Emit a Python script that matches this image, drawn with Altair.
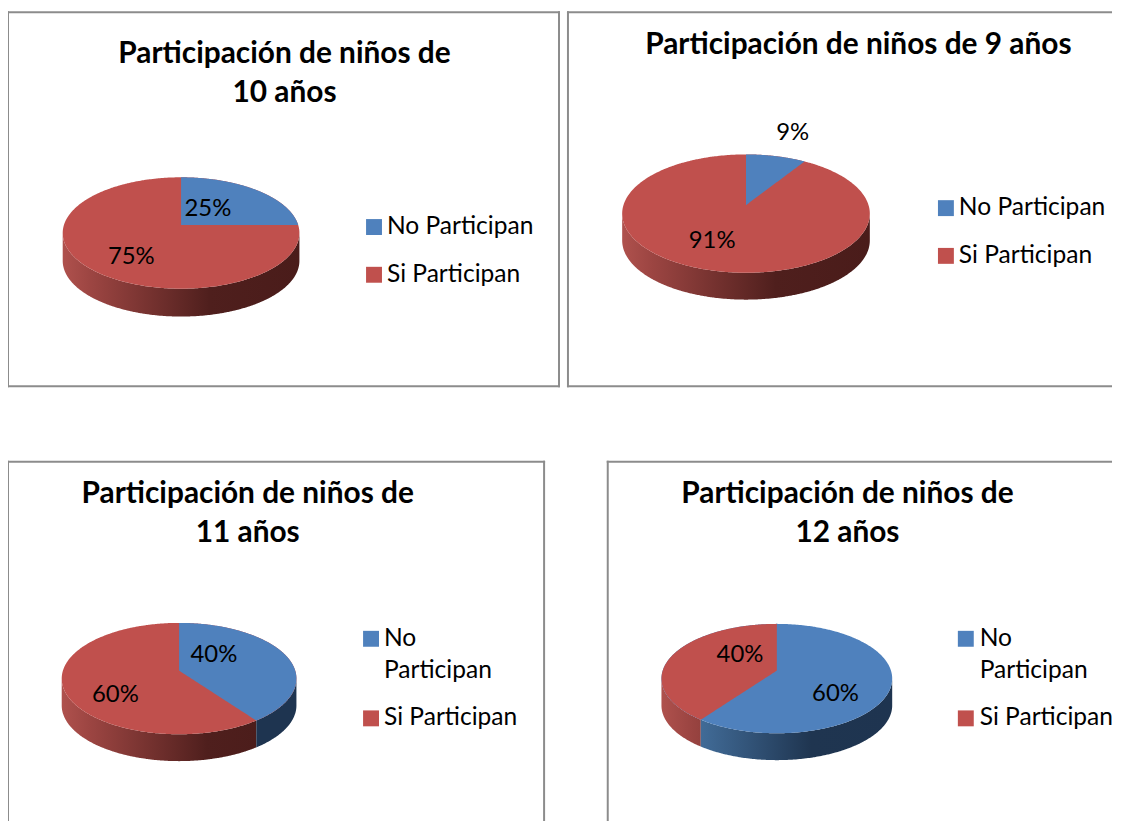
import numpy as np
import pandas as pd
import altair as alt

SERIES = ["No Participan", "Si Participan"]
COLORS = ["#4F81BD", "#C0504D"]
TITLES = [["Participación de niños de", "10 años"],
          ["Participación de niños de 9 años"],
          ["Participación de niños de", "11 años"],
          ["Participación de niños de", "12 años"]]
NO_PARTICIPAN = [25, 9, 40, 60]
SI_PARTICIPAN = [75, 91, 60, 40]

# layout, in picture pixels
PANELS = [
    dict(origin=(6, 9), size=(556, 378), frame="ltrb", title_x=285, title_y=[52, 91],
         apex=(181, 224), half=119, up=48, down=64, depth=28,
         lab_no=(208, 208), lab_si=(131, 256), legend=(375, 388), rows=[226, 274], wrap=False),
    dict(origin=(566, 9), size=(548, 378), frame="ltb", title_x=859, title_y=[43],
         apex=(746, 204), half=124.5, up=51, down=68, depth=27,
         lab_no=(793, 132), lab_si=(712, 240), legend=(947, 960), rows=[207, 255], wrap=False),
    dict(origin=(6, 459), size=(541, 363), frame="ltr", title_x=248, title_y=[492, 532],
         apex=(179, 670), half=118, up=48, down=64, depth=27,
         lab_no=(214, 654), lab_si=(115, 695), legend=(372, 385), rows=[638, 718], wrap=True),
    dict(origin=(606, 459), size=(508, 363), frame="lt", title_x=848, title_y=[492, 532],
         apex=(777, 670), half=116, up=47, down=63, depth=27,
         lab_no=(836, 694), lab_si=(740, 654), legend=(967, 981), rows=[638, 718], wrap=True),
]
FONT = "Lato"
LINE_GAP = 32
TITLE_SIZE = 30
LABEL_SIZE = 24
LEGEND_SIZE = 24.7
FRAME = "#8C8C8C"
RED_SIDE = [(0.0, "#AF514D"), (0.12, "#9C4542"), (0.62, "#4F1F1D"), (1.0, "#4A1C1A")]
BLUE_SIDE = [(0.0, "#4A7AB0"), (0.2, "#3F6893"), (0.65, "#1F3550"), (1.0, "#1E3450")]


def hex_rgb(c):
    return np.array([int(c[i:i + 2], 16) for i in (1, 3, 5)], float)


def ramp(stops, t):
    ts = [s[0] for s in stops]
    rgb = [np.interp(t, ts, [hex_rgb(s[1])[i] for s in stops]) for i in range(3)]
    return "#%02X%02X%02X" % tuple(int(round(v)) for v in rgb)


def rim(p, theta):
    """Perspective image of the pie's circular rim; theta runs clockwise from 12 o'clock."""
    k = (p["down"] - p["up"]) / (p["down"] + p["up"])
    b = 2 * p["up"] * p["down"] / (p["up"] + p["down"])
    a = p["half"] * np.sqrt(1 - k * k)
    d = 1 + k * np.cos(theta)
    return p["apex"][0] + a * np.sin(theta) / d, p["apex"][1] - b * np.cos(theta) / d


def to_rows(xs, ys):
    """Upper and lower y of a convex outline for each of its x."""
    grid = np.unique(np.round(xs, 3))
    top, bot = [], []
    n = len(xs)
    for g in grid:
        hits = []
        for i in range(n):
            x0, y0, x1, y1 = xs[i], ys[i], xs[(i + 1) % n], ys[(i + 1) % n]
            if min(x0, x1) - 1e-3 <= g <= max(x0, x1) + 1e-3:
                if abs(x1 - x0) < 1e-6:
                    hits += [y0, y1]
                else:
                    hits.append(y0 + (y1 - y0) * (g - x0) / (x1 - x0))
        top.append(min(hits))
        bot.append(max(hits))
    return grid, np.array(top), np.array(bot)


def panel_chart(idx):
    p = PANELS[idx]
    ox, oy = p["origin"]
    w, h = p["size"]
    X = alt.X("x:Q", axis=None, scale=alt.Scale(domain=[0, w], nice=False, zero=False))
    Y = alt.Y("y:Q", axis=None, scale=alt.Scale(domain=[h, 0], nice=False, zero=False))
    COLOR = alt.Color("serie:N", legend=None, scale=alt.Scale(domain=SERIES, range=COLORS))

    share = NO_PARTICIPAN[idx] / (NO_PARTICIPAN[idx] + SI_PARTICIPAN[idx])
    edge = 2 * np.pi * share

    # whole top face, in the colour of the larger slice
    t = np.linspace(0, 2 * np.pi, 361)[:-1]
    bx, by = rim(p, t)
    gx, gtop, gbot = to_rows(bx, by)
    base_name = SERIES[1] if share <= .5 else SERIES[0]
    base = pd.DataFrame(dict(x=gx - ox, y=gtop - oy, y2=gbot - oy, serie=base_name))

    # smaller slice on top of it
    if share <= .5:
        a0, a1, wedge_name = 0, edge, SERIES[0]
    else:
        a0, a1, wedge_name = edge, 2 * np.pi, SERIES[1]
    t = np.linspace(a0, a1, 180)
    ex, ey = rim(p, t)
    ex = np.append(ex, p["apex"][0])
    ey = np.append(ey, p["apex"][1])
    wx, wtop, wbot = to_rows(ex, ey)
    wedge = pd.DataFrame(dict(x=wx - ox, y=wtop - oy, y2=wbot - oy, serie=wedge_name))

    # visible wall below the front rim, split where the slice edge meets it
    k = (p["down"] - p["up"]) / (p["down"] + p["up"])
    right_t = np.arccos(-k)
    xmin, xmax = gx.min(), gx.max()
    split = None
    if right_t < edge < 2 * np.pi - right_t:
        split = rim(p, edge)[0]
    segments = []
    if split is None:
        segments.append((xmin, xmax, RED_SIDE))
    else:
        segments.append((xmin, split, RED_SIDE))
        segments.append((split, xmax, BLUE_SIDE))
    sides = []
    for x0, x1, stops in segments:
        keep = (gx >= x0 - 1e-3) & (gx <= x1 + 1e-3)
        sx = np.unique(np.concatenate([gx[keep], [x0, x1]]))
        sy = np.interp(sx, gx, gbot)
        df = pd.DataFrame(dict(x=sx - ox, y=sy - oy, y2=sy + p["depth"] - oy))
        t0, t1 = (x0 - xmin) / (xmax - xmin), (x1 - xmin) / (xmax - xmin)
        offs = sorted({0.0, 1.0, *[(s[0] - t0) / (t1 - t0) for s in stops if t0 < s[0] < t1]})
        grad = alt.Gradient(gradient="linear", x1=0, x2=1, y1=0, y2=0,
                            stops=[alt.GradientStop(offset=o, color=ramp(stops, t0 + o * (t1 - t0))) for o in offs])
        sides.append(alt.Chart(df).mark_area(color=grad, orient="vertical").encode(x=X, y=Y, y2="y2:Q"))

    # frame: kept inside the panel so that its stroke does not widen the layout
    L, T, R, B = 1, 1, w - 1, h - 1
    seg = {"l": (L, T, L, B), "t": (L, T, R, T), "r": (R, T, R, B), "b": (L, B, R, B)}
    fr = pd.DataFrame([dict(x=a, y=b, x2=c, y2=d) for a, b, c, d in (seg[s] for s in p["frame"])])
    frame = alt.Chart(fr).mark_rule(color=FRAME, strokeWidth=2, strokeCap="square").encode(x=X, y=Y, x2="x2:Q", y2="y2:Q")

    # title lines
    tt = pd.DataFrame([dict(x=p["title_x"] - ox, y=y - oy, t=s) for s, y in zip(TITLES[idx], p["title_y"])])
    title = alt.Chart(tt).mark_text(font=FONT, fontSize=TITLE_SIZE, fontWeight="bold", color="#000000", baseline="middle").encode(x=X, y=Y, text="t:N")

    # value labels
    labels = pd.DataFrame([
        dict(x=p["lab_no"][0] - ox, y=p["lab_no"][1] - oy, t=f"{NO_PARTICIPAN[idx]}%"),
        dict(x=p["lab_si"][0] - ox, y=p["lab_si"][1] - oy, t=f"{SI_PARTICIPAN[idx]}%"),
    ])
    lab = alt.Chart(labels).mark_text(font=FONT, fontSize=LABEL_SIZE, color="#000000", baseline="middle").encode(x=X, y=Y, text="t:N")

    # legend
    sq_x, tx_x = p["legend"]
    sq = pd.DataFrame(dict(x=sq_x - ox, y=[r - oy for r in p["rows"]], serie=SERIES))
    rows = []
    if p["wrap"]:
        first, second = SERIES[0].split(" ")
        rows += [(first, p["rows"][0]), (second, p["rows"][0] + LINE_GAP), (SERIES[1], p["rows"][1])]
    else:
        rows += [(SERIES[0], p["rows"][0]), (SERIES[1], p["rows"][1])]
    lt = pd.DataFrame([dict(x=tx_x - ox, y=y - oy, t=s) for s, y in rows])
    squares = alt.Chart(sq).mark_square(size=256, opacity=1).encode(x=X, y=Y, color=COLOR)
    ltext = alt.Chart(lt).mark_text(font=FONT, fontSize=LEGEND_SIZE, align="left", baseline="middle", color="#000000").encode(x=X, y=Y, text="t:N")

    top = [alt.Chart(d).mark_area(orient="vertical").encode(x=X, y=Y, y2="y2:Q", color=COLOR) for d in (base, wedge)]
    chart = alt.layer(frame, *sides, *top, title, lab, squares, ltext)
    return chart.properties(width=w, height=h)


row1 = alt.hconcat(panel_chart(0), panel_chart(1), spacing=5)
row2 = alt.hconcat(panel_chart(2), panel_chart(3), spacing=60)
chart = alt.vconcat(row1, row2, spacing=72).properties(
    padding={"left": -2, "top": 0, "right": 0, "bottom": 0},
    background="#FFFFFF",
).configure_view(stroke=None).resolve_scale(x="independent", y="independent", color="shared")

chart.save("out.html", embed_options={"renderer": "svg", "actions": False})
